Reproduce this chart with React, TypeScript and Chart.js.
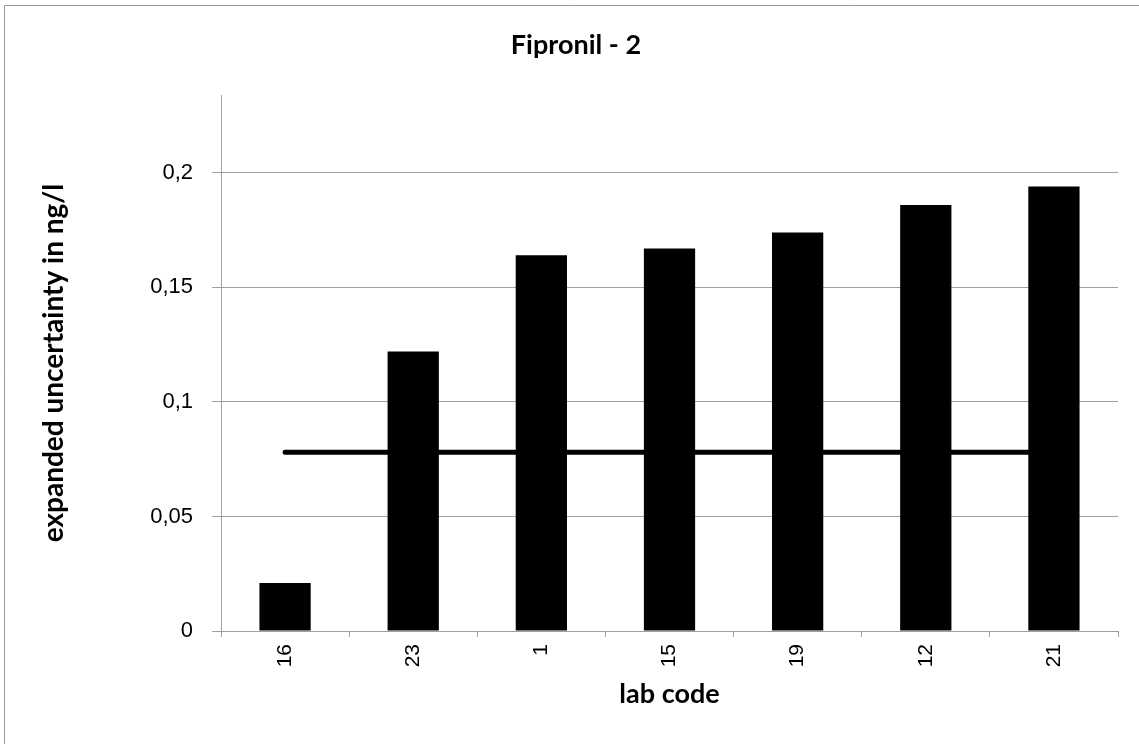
import React, { useEffect, useRef } from "react";
import { Chart, registerables } from "chart.js";

Chart.register(...registerables);

const chartTitle = "Fipronil - 2";
const xAxisTitle = "lab code";
const yAxisTitle = "expanded uncertainty in ng/l";
const labCodes = ["16", "23", "1", "15", "19", "12", "21"];
const uncertaintyValues = [0.021, 0.122, 0.164, 0.167, 0.174, 0.186, 0.194];
const referenceValues = [0.078, 0.078, 0.078, 0.078, 0.078, 0.078, 0.078];
const yTickValues = [0, 0.05, 0.1, 0.15, 0.2];
const yTickLabels = ["0", "0,05", "0,1", "0,15", "0,2"];
const yMin = 0;
const yMax = 0.234;

const GRAY = "#a0a0a0";
const TITLE_FONT = "Lato, 'Open Sans', sans-serif";
const TICK_FONT = "'Liberation Sans', Arial, sans-serif";

const framePlugin = {
  id: "frame",
  beforeDraw(chart: any) {
    const ctx = chart.ctx;
    ctx.save();
    ctx.fillStyle = "#ffffff";
    ctx.fillRect(0, 0, chart.width, chart.height);
    ctx.strokeStyle = "#9a9a9a";
    ctx.lineWidth = 1;
    ctx.beginPath();
    ctx.moveTo(4.5, chart.height);
    ctx.lineTo(4.5, 5.5);
    ctx.lineTo(chart.width, 5.5);
    ctx.stroke();
    ctx.restore();
  },
  afterDraw(chart: any) {
    const ctx = chart.ctx;
    ctx.save();
    ctx.fillStyle = "#000000";
    ctx.font = `bold 27px ${TITLE_FONT}`;
    ctx.textAlign = "center";
    ctx.textBaseline = "alphabetic";
    ctx.fillText(chartTitle, 576, 53.5);
    ctx.restore();
  },
};

export default function App() {
  const canvasRef = useRef<HTMLCanvasElement>(null);

  useEffect(() => {
    if (!canvasRef.current) return;
    const chart = new Chart(canvasRef.current, {
      type: "bar",
      data: {
        labels: labCodes,
        datasets: [
          {
            type: "line" as any,
            label: "reference",
            data: referenceValues,
            borderColor: "#000000",
            backgroundColor: "#000000",
            borderWidth: 5,
            borderCapStyle: "round",
            pointRadius: 0,
            pointHoverRadius: 0,
            fill: false,
            order: 0,
          } as any,
          {
            type: "bar",
            label: "expanded uncertainty",
            data: uncertaintyValues,
            backgroundColor: "#000000",
            borderWidth: 0,
            barPercentage: 0.4,
            categoryPercentage: 1,
            order: 1,
          },
        ],
      },
      options: {
        responsive: false,
        animation: false,
        devicePixelRatio: 1,
        layout: { padding: { left: 0, top: 95, right: 21, bottom: 0 } },
        plugins: {
          legend: { display: false },
          tooltip: { enabled: false },
          title: { display: false },
        },
        scales: {
          x: {
            grid: {
              display: true,
              drawOnChartArea: false,
              drawTicks: true,
              tickLength: 6,
              color: GRAY,
              offset: true,
            },
            border: { display: true, color: GRAY, width: 1 },
            ticks: {
              color: "#000000",
              font: { family: TICK_FONT, size: 21 },
              maxRotation: 90,
              minRotation: 90,
              padding: 7,
              autoSkip: false,
            },
            title: {
              display: true,
              text: xAxisTitle,
              color: "#000000",
              font: { family: TITLE_FONT, size: 27, weight: "bold", lineHeight: 1.2 },
              padding: { top: 0, bottom: 34 },
            },
            afterFit(scale: any) {
              scale.height = 113;
            },
          },
          y: {
            min: yMin,
            max: yMax,
            afterBuildTicks(scale: any) {
              scale.ticks = yTickValues.map((v) => ({ value: v }));
            },
            grid: {
              color: GRAY,
              drawTicks: true,
              tickLength: 9,
            },
            border: { display: true, color: GRAY, width: 1 },
            ticks: {
              color: "#000000",
              font: { family: TICK_FONT, size: 22 },
              padding: 19,
              callback: (_v: any, i: number) => yTickLabels[i],
            },
            title: {
              display: true,
              text: yAxisTitle,
              color: "#000000",
              font: { family: TITLE_FONT, size: 28, weight: "bold", lineHeight: 1.2 },
              padding: { top: 37, bottom: 0 },
            },
            afterFit(scale: any) {
              scale.width = 221;
            },
          },
        },
      },
      plugins: [framePlugin],
    });
    return () => chart.destroy();
  }, []);

  return (
    <div style={{ position: "absolute", left: 0, top: 0, width: 1139, height: 744 }}>
      <canvas ref={canvasRef} width={1139} height={744} style={{ display: "block" }} />
    </div>
  );
}
